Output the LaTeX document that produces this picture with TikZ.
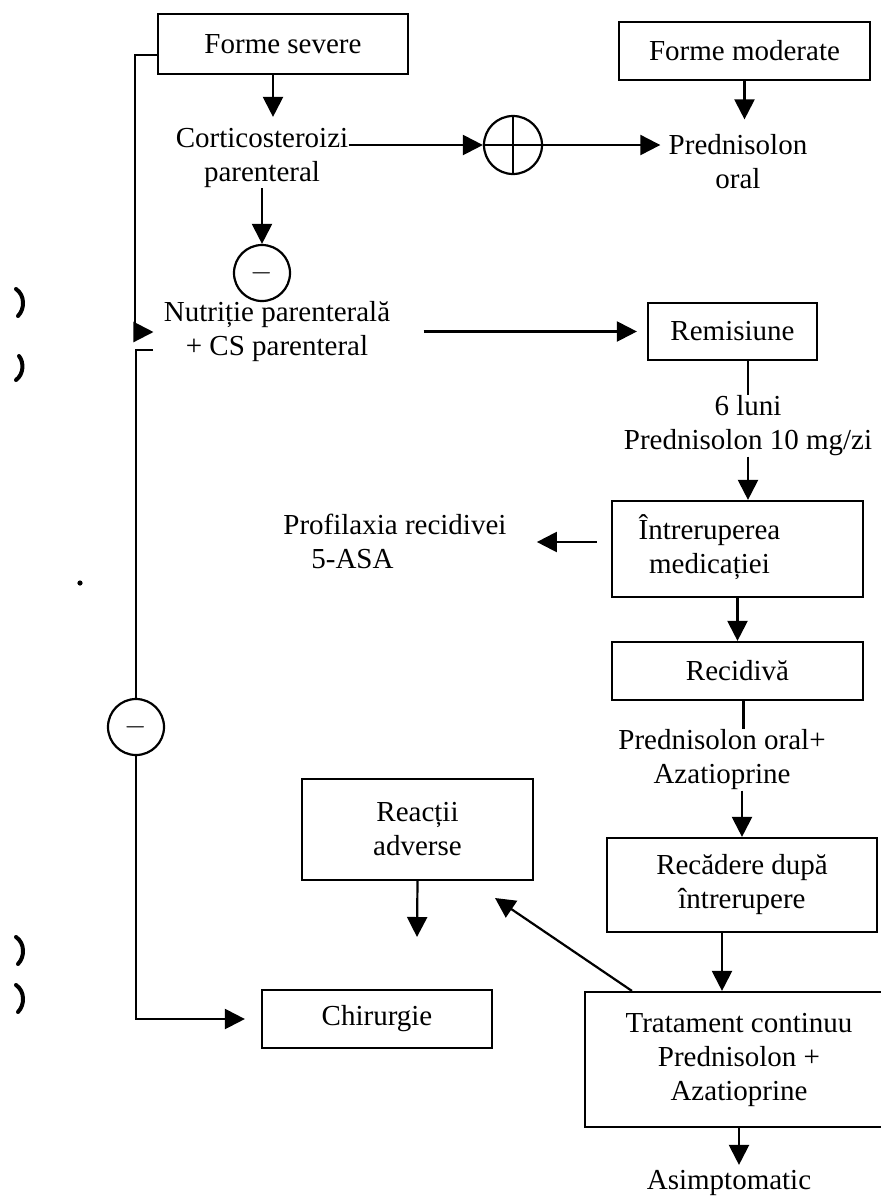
\documentclass[tikz,border=0pt]{standalone}
\usepackage{fontspec}
\setmainfont{Liberation Serif}
\usetikzlibrary{arrows.meta,calc}
\begin{document}
\begin{tikzpicture}[x=0.5pt,y=-0.5pt,
  every node/.style={font=\fontsize{14.5}{17}\selectfont},
  bx/.style 2 args={draw,line width=1.1pt,inner sep=0pt,align=center,minimum width=#1,minimum height=#2},
  txt/.style={inner sep=0pt,align=center},
  arr/.style={-{Triangle[length=10pt,width=10pt]},line width=1.1pt},
  ln/.style={line width=1.1pt},
  crc/.style={draw,circle,line width=1.1pt,inner sep=0pt,minimum size=#1},
  scanmark/.style={line width=2pt,line cap=round}
]
\fill[white] (0,0) rectangle (880,1196);
\useasboundingbox (0,0) rectangle (880,1196);

% boxes and texts
\node[bx={125pt}{30pt}] (fs) at (283,44) {Forme severe};
\node[bx={125.5pt}{29pt}] (fm) at (744.5,51) {Forme moderate};
\node[txt] (cort) at (262,158) {Corticosteroizi\\parenteral};
\node[crc=29pt, path picture={\draw[line width=1.1pt] (path picture bounding box.north) -- (path picture bounding box.south) (path picture bounding box.west) -- (path picture bounding box.east);}] (plus) at (513,145) {};
\node[txt] (pred) at (738,162) {Prednisolon\\oral};
\node[crc=28pt] (m1) at (262,273) {$-$};
\node[txt] (nut) at (277,332) {Nutriție parenterală\\+ CS parenteral};
\node[bx={84.5pt}{28.5pt}] (rem) at (732.5,331.5) {Remisiune};
\node[txt] (lum) at (748,426) {6 luni\\Prednisolon 10 mg/zi};
\node[bx={125.5pt}{48pt}] (intr) at (737.5,549) {\begin{tabular}{@{}c@{}}Întreruperea\\medicației\end{tabular}\hspace*{28pt}};
\node[txt,align=left,anchor=west] (prof) at (283,541) {Profilaxia recidivei\\\hspace*{14pt}5-ASA};
\node[bx={125.5pt}{29pt}] (rec) at (737.5,671) {Recidivă};
\node[txt] (pa) at (722,760) {Prednisolon oral+\\Azatioprine};
\node[bx={135pt}{47pt}] (recd) at (742,885) {Recădere după\\întrerupere};
\node[bx={154pt}{67.5pt}] (trat) at (739,1059.5) {Tratament continuu\\Prednisolon +\\Azatioprine};
\node[txt] (asim) at (729,1183) {Asimptomatic};
\node[bx={115.5pt}{50.5pt}] (rea) at (417.5,829.5) {Reacții\\adverse};
\node[bx={115pt}{29pt}] (chir) at (377,1019) {Chirurgie};
\node[crc=28pt] (m2) at (136,727) {$-$};

% free ends
\coordinate (stub) at (153,350);
\coordinate (ra) at (495,898);
\coordinate (rd) at (417,937);
\coordinate (a1) at ([xshift=-5pt]fs.south);
\coordinate (iw) at ([yshift=3.5pt]intr.west);
\coordinate (rs) at ([xshift=3pt]rec.south);
\coordinate (r1) at ([xshift=-10pt]recd.south);
\coordinate (t1) at ([xshift=24pt]trat.north west);

% connectors
\draw[arr] ([yshift=-5.5pt]fs.west) -- ++(-11pt,0) |- ([xshift=-5pt]nut.west);
\draw[ln] (stub) -| (m2.north);
\draw[arr,shorten >=8pt] (m2.south) |- (chir.west);
\draw[arr,shorten >=5.5pt] (a1) -- (a1 |- cort.north);
\draw[arr] (cort.east |- plus.west) -- (plus.west);
\draw[arr,shorten >=4pt] (plus.east) -- (pred.west |- plus.east);
\draw[arr,shorten >=7.5pt] (fm.south) -- (fm.south |- pred.north);
\draw[arr] (cort.south) -- (m1.north);
\draw[arr,shorten <=16.5pt,shorten >=5pt] (nut.east |- rem.west) -- (rem.west);
\draw[ln] (rem.south -| lum.north) -- (lum.north);
\draw[arr] (lum.south) -- (lum.south |- intr.north);
\draw[arr,shorten <=7pt,shorten >=15pt] (iw) -- (iw -| prof.east);
\draw[arr] (intr.south) -- (rec.north);
\draw[ln] (rs) -- (rs |- pa.north);
\draw[arr] (recd.north |- pa.south) -- (recd.north);
\draw[arr] (r1) -- (r1 |- trat.north);
\draw[arr,shorten >=2.5pt] (trat.south) -- (trat.south |- asim.north);
\draw[arr] (t1) -- (ra);
\draw[arr] (rea.south) -- (rd);

% scan marks at the left edge
\draw[scanmark] (16,289) .. controls (25,295) and (25,309) .. (18,316);
\draw[scanmark] (19,356) .. controls (24,362) and (24,374) .. (16,380);
\draw[scanmark] (16,937) .. controls (25,943) and (25,957) .. (18,964);
\draw[scanmark] (16,985) .. controls (25,991) and (25,1005) .. (18,1012);
\fill (80,583) circle[radius=1.3pt];
\end{tikzpicture}
\end{document}
